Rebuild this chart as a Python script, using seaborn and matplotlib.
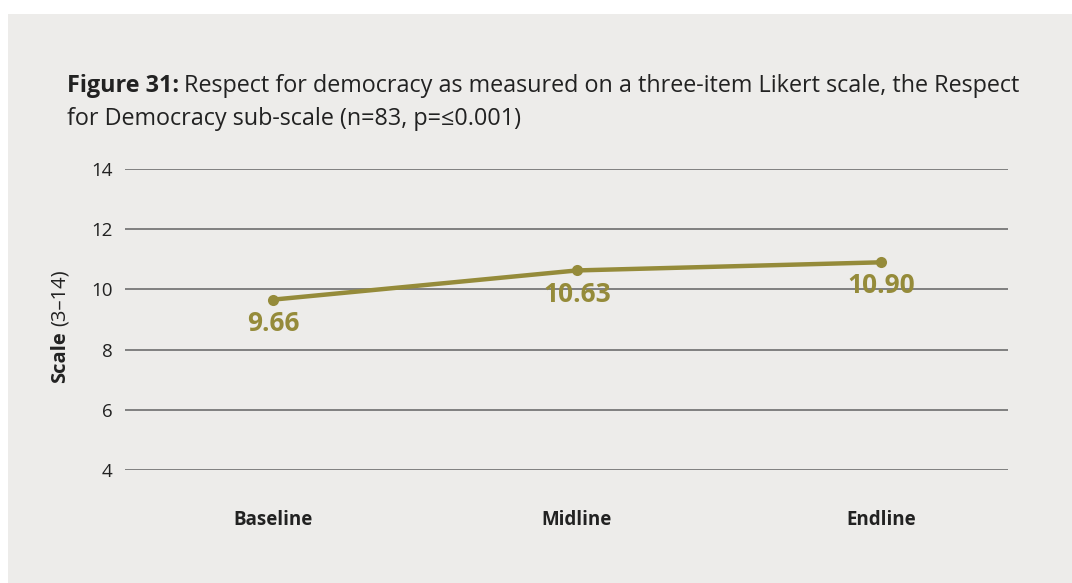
import numpy as np
import pandas as pd
import seaborn as sns
import matplotlib.pyplot as plt
from matplotlib.patches import Rectangle

stages = ['Baseline', 'Midline', 'Endline']
scores = [9.66, 10.63, 10.90]
score_labels = ['9.66', '10.63', '10.90']
yticks = [4, 6, 8, 10, 12, 14]

olive = '#958B3A'
panel = '#EDECEA'
ink = '#222222'

sns.set_style('white')
plt.rcParams['font.family'] = ['Open Sans', 'DejaVu Sans']

df = pd.DataFrame({'stage': stages, 'score': scores})
df['pos'] = np.arange(len(stages))

fig = plt.figure(figsize=(10.72, 5.83), dpi=100)
fig.patch.set_facecolor('white')
fig.patches.append(Rectangle((8 / 1072, 0), 1, 1 - 14 / 583, transform=fig.transFigure,
                             facecolor=panel, edgecolor='none', zorder=-10))

ax = fig.add_axes([125 / 1072, 113 / 583, 883 / 1072, 301 / 583])
ax.set_facecolor(panel)
for s in ax.spines.values():
    s.set_visible(False)

for t in yticks:
    ax.axhline(t, color='#808080', lw=1.4, zorder=1)

sns.lineplot(data=df, x='pos', y='score', ax=ax, color=olive, lw=3.2,
             marker='o', markersize=8, markeredgewidth=0, zorder=3)

for x, y, lab in zip(df['pos'], scores, score_labels):
    ax.annotate(lab, (x, y), xytext=(0, -17), textcoords='offset points',
                ha='center', va='center', fontsize=19, fontweight='bold', color=olive, zorder=4)

ax.set_xlim(-0.487, 2.418)
ax.set_ylim(4, 14)
ax.set_yticks(yticks)
ax.set_yticklabels([str(t) for t in yticks], fontsize=13.5, color=ink)
ax.tick_params(axis='y', length=0, pad=9)
ax.set_xticks(df['pos'])
ax.set_xticklabels(stages, fontsize=13.5, fontweight='bold', color=ink)
ax.tick_params(axis='x', length=0, pad=29)
ax.set_xlabel('')
ax.set_ylabel('')

# y axis label, bold + regular parts
fig.canvas.draw()
s1 = fig.text(60 / 1072, (583 - 383) / 583, 'Scale', rotation=90, ha='center', va='bottom',
              fontsize=14.5, fontweight='bold', color=ink)
fig.canvas.draw()
sb = s1.get_window_extent()
fig.text(60 / 1072, (sb.y1 + 5) / 583, '(3\u201314)', rotation=90, ha='center', va='bottom',
         fontsize=14.5, color=ink)

# title, bold prefix + regular text
t1 = fig.text(67 / 1072, (583 - 92) / 583, 'Figure 31:', ha='left', va='baseline',
              fontsize=16.85, fontweight='bold', color=ink)
fig.canvas.draw()
bb = t1.get_window_extent()
fig.text((bb.x1 + 5) / 1072, (583 - 92) / 583,
         'Respect for democracy as measured on a three-item Likert scale, the Respect',
         ha='left', va='baseline', fontsize=16.85, color=ink)
fig.text(67 / 1072, (583 - 125) / 583, 'for Democracy sub-scale (n=83, p=\u22640.001)',
         ha='left', va='baseline', fontsize=16.85, color=ink)

fig.savefig('out.png', dpi=100, facecolor=fig.get_facecolor())
